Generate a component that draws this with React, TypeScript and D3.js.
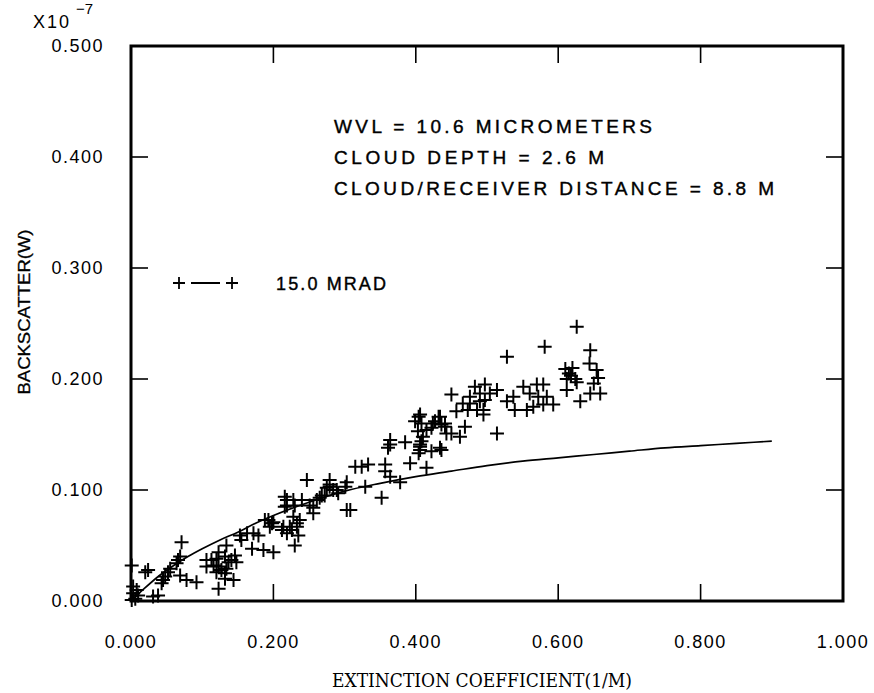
import React from "react";
import * as d3 from "d3";

const xTicks = [0, 0.2, 0.4, 0.6, 0.8, 1.0];
const xTickLabels = ["0.000", "0.200", "0.400", "0.600", "0.800", "1.000"];
const yTicks = [0, 0.1, 0.2, 0.3, 0.4, 0.5];
const yTickLabels = ["0.000", "0.100", "0.200", "0.300", "0.400", "0.500"];

const annotationLines = [
  "WVL = 10.6 MICROMETERS",
  "CLOUD DEPTH = 2.6 M",
  "CLOUD/RECEIVER DISTANCE = 8.8 M",
];
const annotationWidths = [318, 270, 440];
const legendLabel = "15.0 MRAD";
const xTitle = "EXTINCTION COEFFICIENT(1/M)";
const yTitle = "BACKSCATTER(W)";

// model curve
const curveX = [0, 0.02, 0.04, 0.06, 0.08, 0.1, 0.125, 0.15, 0.175, 0.2, 0.25, 0.3, 0.35, 0.4, 0.45, 0.5, 0.55, 0.6, 0.65, 0.7, 0.75, 0.8, 0.85, 0.9];
const curveY = [0, 0.012, 0.023, 0.032, 0.04, 0.047, 0.055, 0.062, 0.07, 0.077, 0.089, 0.099, 0.106, 0.112, 0.117, 0.122, 0.126, 0.129, 0.132, 0.135, 0.138, 0.14, 0.142, 0.144];

// measured points [x, y]
const measured: [number, number][] = [
  [0.626, 0.247], [0.581, 0.229], [0.528, 0.22], [0.645, 0.226], [0.644, 0.214],
  [0.61, 0.209], [0.615, 0.205], [0.62, 0.21], [0.624, 0.2], [0.612, 0.2], [0.626, 0.197], [0.618, 0.203],
  [0.654, 0.208], [0.656, 0.201], [0.65, 0.196], [0.612, 0.19], [0.645, 0.187], [0.659, 0.187], [0.631, 0.18],
  [0.551, 0.193], [0.57, 0.195], [0.579, 0.195], [0.56, 0.187], [0.572, 0.184], [0.584, 0.184], [0.537, 0.184],
  [0.528, 0.18], [0.539, 0.172], [0.556, 0.172], [0.565, 0.175], [0.579, 0.177], [0.593, 0.177],
  [0.483, 0.193], [0.497, 0.195], [0.514, 0.19], [0.504, 0.187], [0.49, 0.187], [0.476, 0.184], [0.466, 0.178],
  [0.476, 0.178], [0.49, 0.18], [0.497, 0.181], [0.495, 0.172], [0.495, 0.168], [0.457, 0.171], [0.473, 0.172],
  [0.486, 0.172], [0.45, 0.186], [0.514, 0.151], [0.469, 0.157], [0.462, 0.148], [0.45, 0.151],
  [0.441, 0.16], [0.434, 0.166], [0.427, 0.162], [0.436, 0.159], [0.443, 0.151], [0.406, 0.168], [0.399, 0.162],
  [0.408, 0.16], [0.403, 0.153], [0.415, 0.154], [0.422, 0.156], [0.385, 0.143], [0.364, 0.145], [0.364, 0.141],
  [0.41, 0.148], [0.406, 0.141], [0.404, 0.166], [0.432, 0.166], [0.424, 0.16], [0.441, 0.157], [0.361, 0.138],
  [0.408, 0.144], [0.406, 0.136], [0.404, 0.133], [0.422, 0.135], [0.436, 0.136], [0.392, 0.124], [0.415, 0.12],
  [0.357, 0.123], [0.357, 0.117], [0.364, 0.112], [0.378, 0.107], [0.406, 0.139], [0.434, 0.138],
  [0.315, 0.121], [0.324, 0.121], [0.333, 0.123], [0.352, 0.093], [0.329, 0.103], [0.279, 0.109], [0.279, 0.105],
  [0.275, 0.102], [0.284, 0.1], [0.303, 0.107], [0.301, 0.103], [0.291, 0.097], [0.247, 0.109], [0.268, 0.095],
  [0.265, 0.093], [0.261, 0.091], [0.219, 0.091], [0.216, 0.085], [0.23, 0.086], [0.24, 0.091], [0.251, 0.086],
  [0.256, 0.079], [0.308, 0.082], [0.228, 0.076], [0.237, 0.073], [0.233, 0.07], [0.188, 0.073], [0.198, 0.07],
  [0.214, 0.067], [0.223, 0.067],
  [0.071, 0.053], [0.066, 0.037], [0.069, 0.04], [0.064, 0.034], [0.024, 0.028], [0.001, 0.032], [0.048, 0.022],
  [0.052, 0.026], [0.055, 0.029], [0.045, 0.019], [0.043, 0.016], [0.069, 0.023], [0.078, 0.019], [0.092, 0.017],
  [0.038, 0.005], [0.031, 0.004], [0.003, 0.013], [0.008, 0.01], [0.003, 0.007], [0.01, 0.005], [0.001, 0.001],
  [0.006, 0.002], [0.02, 0.026],
  [0.106, 0.037], [0.113, 0.037], [0.12, 0.038], [0.116, 0.032], [0.106, 0.031], [0.123, 0.031], [0.123, 0.044],
  [0.134, 0.05], [0.132, 0.04], [0.137, 0.035], [0.134, 0.029], [0.141, 0.037], [0.146, 0.041], [0.148, 0.035],
  [0.12, 0.026], [0.127, 0.028], [0.132, 0.025], [0.132, 0.02], [0.144, 0.019], [0.123, 0.011],
  [0.153, 0.059], [0.163, 0.061], [0.155, 0.055], [0.172, 0.061], [0.179, 0.059], [0.17, 0.047], [0.186, 0.046],
  [0.2, 0.044], [0.193, 0.073], [0.2, 0.071], [0.195, 0.067], [0.212, 0.064], [0.219, 0.061], [0.226, 0.064],
  [0.233, 0.067], [0.235, 0.059], [0.237, 0.073], [0.23, 0.05], [0.216, 0.094], [0.219, 0.086], [0.228, 0.091],
  [0.256, 0.084], [0.272, 0.095], [0.279, 0.103], [0.289, 0.1], [0.303, 0.082],
];

const W = 874;
const H = 693;
const left = 131, right = 843, top = 46, bottom = 601;

export default function App() {
  const x = d3.scaleLinear().domain([0, 1]).range([left, right]);
  const y = d3.scaleLinear().domain([0, 0.5]).range([bottom, top]);
  const line = d3.line<number>().x((d) => x(curveX[d])).y((d) => y(curveY[d])).curve(d3.curveMonotoneX);
  const curvePath = line(curveX.map((_, i) => i)) || "";
  const tickLen = 17;
  const plus = (cx: number, cy: number, r: number) => `M${cx - r},${cy}H${cx + r}M${cx},${cy - r}V${cy + r}`;
  const sans = "'Liberation Sans', Arial, sans-serif";
  return (
    <svg width={W} height={H} style={{ position: "absolute", left: 0, top: 0, background: "#fff" }} fontFamily={sans}>
      <rect x={0} y={0} width={W} height={H} fill="#fff" />
      {xTicks.slice(1, -1).map((t) => (
        <g key={"xt" + t} stroke="#000" strokeWidth={1.6}>
          <line x1={x(t)} x2={x(t)} y1={bottom} y2={bottom - tickLen} />
          <line x1={x(t)} x2={x(t)} y1={top} y2={top + tickLen} />
        </g>
      ))}
      {yTicks.slice(1, -1).map((t) => (
        <g key={"yt" + t} stroke="#000" strokeWidth={1.6}>
          <line x1={left} x2={left + tickLen} y1={y(t)} y2={y(t)} />
          <line x1={right} x2={right - tickLen} y1={y(t)} y2={y(t)} />
        </g>
      ))}
      <path d={curvePath} fill="none" stroke="#000" strokeWidth={1.7} />
      <path
        d={measured.map(([a, b]) => plus(x(a), y(b), 7)).join("")}
        fill="none"
        stroke="#000"
        strokeWidth={2}
      />
      <rect x={left} y={top} width={right - left} height={bottom - top} fill="none" stroke="#000" strokeWidth={3} />
      {yTicks.map((t, i) => (
        <text key={"yl" + t} x={104} y={y(t) + 6} textAnchor="end" fontSize={18} letterSpacing={1.5}>
          {yTickLabels[i]}
        </text>
      ))}
      <text x={33} y={28} fontSize={18} letterSpacing={2}>X10</text>
      <text x={76} y={14} fontSize={15}>−7</text>
      {xTicks.map((t, i) => (
        <text key={"xl" + t} x={x(t)} y={648} textAnchor="middle" fontSize={18} letterSpacing={1.5}>
          {xTickLabels[i]}
        </text>
      ))}
      <text x={482} y={687} textAnchor="middle" fontSize={18} fontFamily="'DejaVu Serif', serif" textLength={300} lengthAdjust="spacingAndGlyphs">
        {xTitle}
      </text>
      <text
        transform={`translate(30,312) rotate(-90)`}
        textAnchor="middle"
        fontSize={17}
        textLength={165}
        lengthAdjust="spacingAndGlyphs"
        stroke="#000"
        strokeWidth={0.3}
      >
        {yTitle}
      </text>
      {annotationLines.map((s, i) => (
        <text key={s} x={334} y={133 + i * 31} fontSize={19} textLength={annotationWidths[i]} lengthAdjust="spacing" stroke="#000" strokeWidth={0.4}>
          {s}
        </text>
      ))}
      <path d={plus(179, 283, 6) + plus(232, 283, 6) + "M191,283H220"} stroke="#000" strokeWidth={1.8} fill="none" />
      <text x={276} y={290} fontSize={18} textLength={110} lengthAdjust="spacing" stroke="#000" strokeWidth={0.4}>{legendLabel}</text>
    </svg>
  );
}
